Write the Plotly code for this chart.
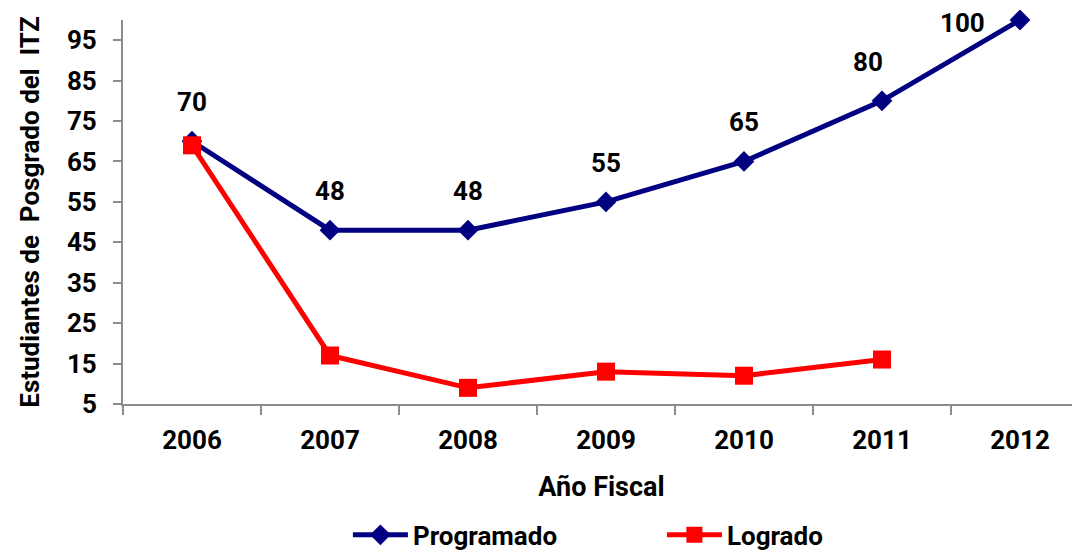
import plotly.graph_objects as go

years = ["2006", "2007", "2008", "2009", "2010", "2011", "2012"]
programado = [70, 48, 48, 55, 65, 80, 100]
logrado = [69, 17, 9, 13, 12, 16]
y_ticks = [5, 15, 25, 35, 45, 55, 65, 75, 85, 95]

FONT = "Roboto, Liberation Sans, Arial, sans-serif"
BOLD = dict(family=FONT, color="black", weight="bold")

fig = go.Figure()
fig.add_trace(go.Scatter(
    x=years, y=programado, name="Programado", mode="lines+markers",
    line=dict(color="#000080", width=5),
    marker=dict(symbol="diamond", size=16, color="#000080"),
    cliponaxis=False,
))
fig.add_trace(go.Scatter(
    x=years[:len(logrado)], y=logrado, name="Logrado", mode="lines+markers",
    line=dict(color="#FF0000", width=5),
    marker=dict(symbol="square", size=18, color="#FF0000"),
    cliponaxis=False,
))

# data labels for Programado (x given as category index)
for i, v in enumerate(programado):
    xs, ys = 0, 39
    if i == len(programado) - 2:
        xs = -14
    if i == len(programado) - 1:
        xs, ys = -57, -3
    fig.add_annotation(x=i, y=v, xref="x", yref="y", text=str(v),
                       showarrow=False, xshift=xs, yshift=ys,
                       font=dict(BOLD, size=26))

fig.update_layout(
    width=1080, height=552,
    margin=dict(l=115, r=8, t=12, b=156, autoexpand=False),
    paper_bgcolor="white", plot_bgcolor="white",
    font=dict(family=FONT, color="black"),
    showlegend=True,
    legend=dict(orientation="h", x=0.235, xanchor="left", y=-0.341, yanchor="middle",
                font=dict(BOLD, size=26),
                itemwidth=55, entrywidth=244, entrywidthmode="pixels",
                bgcolor="rgba(0,0,0,0)"),
)
fig.update_xaxes(
    type="category", range=[-0.5, 6.435], tickson="boundaries", automargin=False,
    ticks="outside", ticklen=9, tickwidth=2, tickcolor="#8c8c8c", ticklabelstandoff=12,
    showline=True, linecolor="#8c8c8c", linewidth=2, showgrid=False, zeroline=False,
    tickfont=dict(BOLD, size=26),
    title=dict(text="Año Fiscal", standoff=23, font=dict(BOLD, size=27)),
)
fig.update_yaxes(
    range=[5, 100], tickvals=y_ticks, ticktext=[str(t) for t in y_ticks], automargin=False,
    ticks="outside", ticklen=8, tickwidth=2, tickcolor="#8c8c8c", ticklabelstandoff=11,
    showline=True, linecolor="#8c8c8c", linewidth=2, showgrid=False, zeroline=False,
    tickfont=dict(BOLD, size=26),
    title=dict(text="Estudiantes de  Posgrado del  ITZ", standoff=20,
               font=dict(BOLD, size=26)),
)

fig.write_html("out.html")
